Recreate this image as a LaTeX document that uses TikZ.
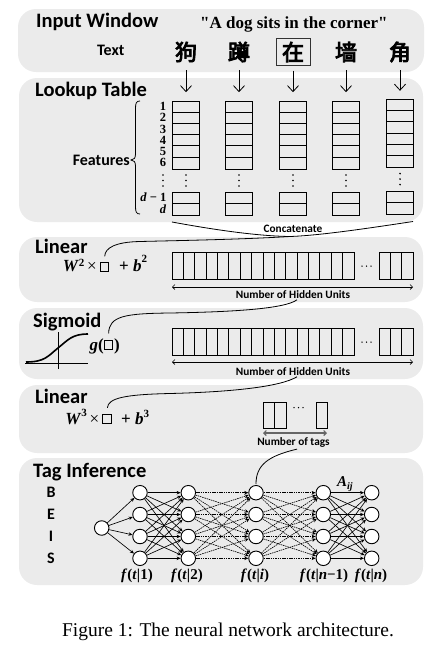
\documentclass[tikz,border=0pt]{standalone}
\usepackage{fontspec}
\setmainfont{Liberation Serif}
\newfontfamily\sentfont{Liberation Serif}
\newfontfamily\carl{Carlito}
\newfontfamily\cjkf[FakeBold=4]{Noto Sans CJK SC}
\usetikzlibrary{arrows.meta}
\definecolor{panelgray}{RGB}{235,235,235}
\newcommand{\fsz}[1]{\fontsize{#1}{#1}\selectfont}
\tikzset{
  panel/.style={fill=panelgray, draw=none, rounded corners=18pt},
  panelhead/.style={anchor=base west, inner sep=0pt, font=\carl\bfseries\fsz{20.5}},
  lbl/.style={inner sep=0pt, font=\carl\bfseries\fsz{16}},
  smalllbl/.style={anchor=base, inner sep=1.5pt, font=\carl\bfseries\fsz{11.3}},
  hanzi/.style={inner sep=0pt, minimum width=34pt, minimum height=27pt, font=\cjkf\fsz{22}},
  rowlbl/.style={inner sep=0pt, font=\bfseries\fsz{12.5}},
  mathtxt/.style={inner sep=0pt, font=\bfseries\fsz{17}},
  sqbox/.style={draw, line width=0.9pt, minimum size=8.5pt, inner sep=0pt},
  colbox/.style={draw, line width=0.9pt, minimum width=27pt, inner sep=0pt, anchor=north},
  rowbox/.style={draw, line width=0.9pt, inner sep=0pt, anchor=north west},
  cellline/.style={line width=0.9pt},
  feed/.style={line width=0.8pt, -{Straight Barb[length=6pt,width=11pt]}},
  linkcurve/.style={line width=0.8pt},
  spanarrow/.style={line width=0.6pt, {Straight Barb[length=2.5pt,width=5pt]}-{Straight Barb[length=2.5pt,width=5pt]}},
  neuron/.style={draw, circle, line width=0.9pt, fill=white, minimum size=14.5pt, inner sep=0pt},
  netedge/.style={line width=0.65pt, -{Stealth[length=4pt,width=3.5pt]}},
  dnetedge/.style={netedge, dash pattern=on 1.5pt off 0.8pt},
  flbl/.style={anchor=base, inner sep=0pt, font=\bfseries\fsz{15}},
}
\begin{document}
\begin{tikzpicture}[x=1pt,y=-1pt]
\useasboundingbox (0,0) rectangle (435,651);
% panels
\fill[panel] (18,9) rectangle (424,72);
\fill[panel] (19,78) rectangle (423,222);
\fill[panel] (19,237) rectangle (423,302);
\fill[panel] (19,308) rectangle (423,379);
\fill[panel] (19,385) rectangle (423,453);
\fill[panel] (19,458) rectangle (423,585);

% ---- Input window
\node[panelhead] (h1) at (36,27) {Input Window};
\node[anchor=base west, inner sep=0pt, font=\sentfont\bfseries\fsz{17}] (sent) at (200,28) {"A dog sits in the corner"};
\node[lbl, anchor=base west] (txt) at (97,55) {Text};
\node[hanzi] (ch1) at (186,52) {狗};
\node[hanzi] (ch2) at (239,52) {蹲};
\node[hanzi, draw=black!80, line width=1pt] (ch3) at (293,52) {在};
\node[hanzi] (ch4) at (346,52) {墙};
\node[hanzi] (ch5) at (400,52) {角};

% ---- Lookup table
\node[panelhead] (h2) at (35,96) {Lookup Table};
\foreach \i/\x/\dy in {1/186/0,2/239/0,3/293/0,4/346/0,5/400/-1.4}{
  \node[colbox, minimum height=67.8pt] (col\i) at (\x,100.7+\dy) {};
  \foreach \k in {1,...,5}
    \draw[cellline] (\x-13.5,100.7+\dy+\k*11.3) -- (\x+13.5,100.7+\dy+\k*11.3);
  \node[colbox, minimum height=22.7pt] (bot\i) at (\x,192.3+\dy) {};
  \draw[cellline] (\x-13.5,203.65+\dy) -- (\x+13.5,203.65+\dy);
  \foreach \yy in {175,180.5,186} \fill (\x,\yy+\dy) circle (0.9pt);
  \draw[feed, shorten <=4.5pt, shorten >=8.5pt] (ch\i) -- (col\i.north);
}
\foreach \k in {1,...,6}
  \node[rowlbl] (r\k) at (163,100.7+\k*11.3-5.65) {\k};
\foreach \yy in {175,180.5,186} \fill (163,\yy) circle (0.9pt);
\node[rowlbl, anchor=east] (rdm) at (166.5,197.5) {\textit{d} − 1};
\node[rowlbl] (rd) at (163,209.5) {\textit{d}};
\draw[line width=0.8pt] (140,101) .. controls (136.5,101) and (135.5,103) .. (135.5,108)
  -- (135.5,154) .. controls (135.5,158) and (134,160) .. (131,160)
  .. controls (134,160) and (135.5,162) .. (135.5,166)
  -- (135.5,207) .. controls (135.5,212) and (136.5,214) .. (140,214);
\node[lbl, anchor=east] (feat) at (130,160) {Features};
\coordinate (bl) at (172,222);
\coordinate (br) at (413,221.5);
\coordinate (ct) at (290,236.5);
\draw[linkcurve] (bl) .. controls (210,229) and (255,236) .. (ct);
\draw[linkcurve] (br) .. controls (370,228) and (320,235.5) .. (ct);
\node[smalllbl] (conc) at (293,232) {Concatenate};

% ---- Linear 1
\node[panelhead] (h3) at (35,253) {Linear};
\node[mathtxt, anchor=base east] (w2) at (97,271.5) {\textit{W}\raisebox{5pt}{\fsz{11}2}\,\textmd{×}};
\node[sqbox] (sq1) at (104.5,267) {};
\node[mathtxt, anchor=base west] (b2) at (119,271.5) {+ \textit{b}\raisebox{9pt}{\fsz{11}2}};
\draw[linkcurve, shorten >=6pt] (ct) .. controls (240,239.5) and (180,240.5) .. (140,241.5)
  .. controls (115,242) and (105,248) .. (sq1.north);
\node[rowbox, minimum width=182pt, minimum height=26.5pt] (hid1) at (172,252) {};
\foreach \k in {1,...,15} \draw[cellline] (172+\k*11.375,252) -- (172+\k*11.375,278.5);
\node[rowbox, minimum width=34.1pt, minimum height=26.5pt] (hid1b) at (379,252) {};
\foreach \k in {1,2} \draw[cellline] (379+\k*11.37,252) -- (379+\k*11.37,278.5);
\foreach \xx in {362,366.5,371} \fill (\xx,266) circle (0.75pt);
\coordinate (s1l) at (172,287);
\coordinate (s1r) at (413,287);
\draw[spanarrow] (s1l) -- (s1r);
\node[smalllbl] (nh1) at (293,298) {Number of Hidden Units};

% ---- Sigmoid
\node[panelhead] (h4) at (33,327) {Sigmoid};
\draw[line width=0.6pt] (25,363) -- (88,363);
\draw[line width=0.6pt] (58,332) -- (58,369);
\draw[line width=1.6pt] (26,362) .. controls (45,362) and (48,356) .. (58,348)
  .. controls (68,340) and (72,334) .. (88,334);
\node[mathtxt, anchor=base east] (g1) at (104,350) {\textit{g}(};
\node[sqbox] (sq2) at (108.5,345) {};
\node[mathtxt, anchor=base west] (g2) at (114,350) {)};
\draw[linkcurve, shorten >=7pt] ([xshift=4pt]nh1.south) .. controls (285,309) and (230,312) .. (170,313)
  .. controls (125,313.5) and (109,316) .. (sq2.north);
\node[rowbox, minimum width=182pt, minimum height=27pt] (hid2) at (172,328) {};
\foreach \k in {1,...,15} \draw[cellline] (172+\k*11.375,328) -- (172+\k*11.375,355);
\node[rowbox, minimum width=34.1pt, minimum height=27pt] (hid2b) at (379,328) {};
\foreach \k in {1,2} \draw[cellline] (379+\k*11.37,328) -- (379+\k*11.37,355);
\foreach \xx in {362,366.5,371} \fill (\xx,342) circle (0.75pt);
\coordinate (s2l) at (172,362);
\coordinate (s2r) at (413,362);
\draw[spanarrow] (s2l) -- (s2r);
\node[smalllbl] (nh2) at (293,375) {Number of Hidden Units};

% ---- Linear 2
\node[panelhead] (h5) at (35,403) {Linear};
\node[mathtxt, anchor=base east] (w3) at (99.5,424) {\textit{W}\raisebox{8pt}{\fsz{11}3}\,\textmd{×}};
\node[sqbox] (sq3) at (107,419) {};
\node[mathtxt, anchor=base west] (b3) at (121,424) {+ \textit{b}\raisebox{7pt}{\fsz{11}3}};
\draw[linkcurve, shorten >=6.5pt] ([xshift=4pt]nh2.south) .. controls (280,387) and (230,392) .. (170,393.5)
  .. controls (125,394.5) and (108,398) .. (sq3.north);
\node[rowbox, minimum width=23pt, minimum height=26.3pt] (tagA) at (263,402) {};
\draw[cellline] (274.5,402) -- (274.5,428.3);
\node[rowbox, minimum width=11.3pt, minimum height=26.3pt] (tagB) at (316,402) {};
\foreach \xx in {294,298.5,303} \fill (\xx,407.5) circle (0.75pt);
\coordinate (tl) at (263,433);
\coordinate (tr) at (327,433);
\draw[spanarrow, line width=1.1pt, draw=black!60] (tl) -- (tr);
\node[smalllbl] (ntags) at (293.5,445.5) {Number of tags};

% ---- Tag inference
\node[panelhead] (h6) at (33,477) {Tag Inference};
\foreach \r/\y/\t in {1/492.7/B,2/514.5/E,3/536.5/I,4/558.3/S}
  \node[lbl] (tag\r) at (51,\y) {\t};
\node[neuron] (s) at (101.7,528) {};
\foreach \c/\x in {1/140,2/188.3,3/256,4/323.3,5/371.7}
  \foreach \r/\y in {1/492.7,2/514.5,3/536.5,4/558.3}
    \node[neuron] (n-\c-\r) at (\x,\y) {};
\foreach \b in {1,...,4} \draw[netedge] (s) -- (n-1-\b);
\foreach \a in {1,...,4}{
  \foreach \b in {1,...,4}{
    \draw[netedge] (n-1-\a) -- (n-2-\b);
    \draw[dnetedge] (n-2-\a) -- (n-3-\b);
    \draw[dnetedge] (n-3-\a) -- (n-4-\b);
    \draw[netedge] (n-4-\a) -- (n-5-\b);
  }
}
\draw[linkcurve, shorten >=1pt] ([xshift=3.5pt]ntags.south) .. controls (268,456) and (256,465) .. (n-3-1.north);
\node[flbl, anchor=base west] (aij) at (337,486) {\textit{A}\raisebox{-3pt}{\fsz{10}\textit{ij}}};
\node[flbl] (f1) at (137,579) {\textit{f}(\textit{t}|1)};
\node[flbl] (f2) at (187,579) {\textit{f}(\textit{t}|2)};
\node[flbl] (fi) at (255,579) {\textit{f}(\textit{t}|\textit{i})};
\node[flbl] (fn1) at (324,579) {\textit{f}(\textit{t}|\textit{n}−1)};
\node[flbl] (fn) at (371,579) {\textit{f}(\textit{t}|\textit{n})};

% caption
\node[anchor=base, inner sep=0pt, font=\fsz{19.5}] (cap) at (228,636) {Figure 1: The neural network architecture.};
\end{tikzpicture}
\end{document}
